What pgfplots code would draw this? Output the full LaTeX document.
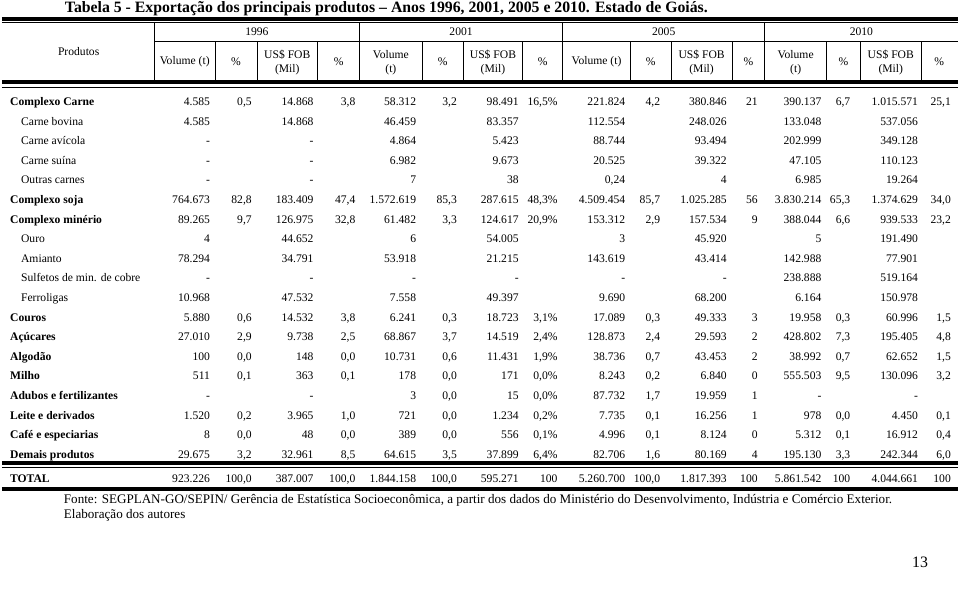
\documentclass[border=0pt]{standalone}
\usepackage{pgfplots}
\pgfplotsset{compat=1.18}
\usepackage{pgfplotstable}
\usepackage{fontspec}
\setmainfont{Liberation Serif}

\newcommand\bodyfont{\fontsize{11.7}{14}\selectfont}

% baseline y (px from top); 16 data columns, 1996 | 2001 | 2005 | 2010
\pgfplotstableread[col sep=semicolon, row sep=\\]{
y;a;b;c;d;e;f;g;h;i;j;k;l;m;n;o;p\\
106;4.585;0,5;14.868;3,8;58.312;3,2;98.491;16,5\%;221.824;4,2;380.846;21;390.137;6,7;1.015.571;25,1\\
125.7;4.585;;14.868;;46.459;;83.357;;112.554;;248.026;;133.048;;537.056;\\
145.4;-;;-;;4.864;;5.423;;88.744;;93.494;;202.999;;349.128;\\
165;-;;-;;6.982;;9.673;;20.525;;39.322;;47.105;;110.123;\\
184.7;-;;-;;7;;38;;0,24;;4;;6.985;;19.264;\\
204.4;764.673;82,8;183.409;47,4;1.572.619;85,3;287.615;48,3\%;4.509.454;85,7;1.025.285;56;3.830.214;65,3;1.374.629;34,0\\
224.1;89.265;9,7;126.975;32,8;61.482;3,3;124.617;20,9\%;153.312;2,9;157.534;9;388.044;6,6;939.533;23,2\\
243.8;4;;44.652;;6;;54.005;;3;;45.920;;5;;191.490;\\
263.4;78.294;;34.791;;53.918;;21.215;;143.619;;43.414;;142.988;;77.901;\\
283.1;-;;-;;-;;-;;-;;-;;238.888;;519.164;\\
302.8;10.968;;47.532;;7.558;;49.397;;9.690;;68.200;;6.164;;150.978;\\
322.5;5.880;0,6;14.532;3,8;6.241;0,3;18.723;3,1\%;17.089;0,3;49.333;3;19.958;0,3;60.996;1,5\\
342.2;27.010;2,9;9.738;2,5;68.867;3,7;14.519;2,4\%;128.873;2,4;29.593;2;428.802;7,3;195.405;4,8\\
361.8;100;0,0;148;0,0;10.731;0,6;11.431;1,9\%;38.736;0,7;43.453;2;38.992;0,7;62.652;1,5\\
381.5;511;0,1;363;0,1;178;0,0;171;0,0\%;8.243;0,2;6.840;0;555.503;9,5;130.096;3,2\\
401.2;-;;-;;3;0,0;15;0,0\%;87.732;1,7;19.959;1;-;;-;\\
420.9;1.520;0,2;3.965;1,0;721;0,0;1.234;0,2\%;7.735;0,1;16.256;1;978;0,0;4.450;0,1\\
440.6;8;0,0;48;0,0;389;0,0;556;0,1\%;4.996;0,1;8.124;0;5.312;0,1;16.912;0,4\\
460.2;29.675;3,2;32.961;8,5;64.615;3,5;37.899;6,4\%;82.706;1,6;80.169;4;195.130;3,3;242.344;6,0\\
485;923.226;100,0;387.007;100,0;1.844.158;100,0;595.271;100;5.260.700;100,0;1.817.393;100;5.861.542;100;4.044.661;100\\
}\tabdata

\pgfplotsset{
  cell/.style={draw=none, mark=none, nodes near coords, point meta=explicit symbolic,
    nodes near coords style={anchor=base east, inner sep=0pt, font=\bodyfont, text=black}},
}

\begin{document}
\begin{tikzpicture}
\begin{axis}[
    width=960bp, height=599bp, scale only axis,
    xmin=0, xmax=960, ymin=0, ymax=599,
    y dir=reverse, hide axis, clip=false,
]
\path (axis cs:0,0) rectangle (axis cs:960,599);

% title
\node[anchor=base, inner sep=0pt, font=\fontsize{15.9}{18}\selectfont\bfseries]
  at (axis cs:386,12.5) {Tabela 5 - Exportação dos principais produtos -- Anos 1996, 2001, 2005 e 2010. Estado de Goiás.};

% rules
\draw[line width=4bp] (axis cs:0,18.7) -- (axis cs:960,18.7);
\draw[line width=0.8bp] (axis cs:0,22.2) -- (axis cs:960,22.2);
\draw[line width=0.8bp] (axis cs:153,42) -- (axis cs:960,42);
\foreach \xv in {153,359,563,766}
  {\edef\temp{\noexpand\draw[line width=0.8bp] (axis cs:\xv,22) -- (axis cs:\xv,81);}\temp}
\foreach \xv in {214,256,317,422,463,523,631,672,733,828,862,923}
  {\edef\temp{\noexpand\draw[line width=0.8bp] (axis cs:\xv,42) -- (axis cs:\xv,81);}\temp}
\draw[line width=4bp] (axis cs:0,82.6) -- (axis cs:960,82.6);
\draw[line width=0.8bp] (axis cs:0,87.3) -- (axis cs:960,87.3);
\draw[line width=4bp] (axis cs:0,465.3) -- (axis cs:960,465.3);
\draw[line width=0.8bp] (axis cs:0,469.5) -- (axis cs:960,469.5);
\draw[line width=4bp] (axis cs:0,491) -- (axis cs:960,491);

% header
\begin{scope}[every node/.style={inner sep=0pt, font=\bodyfont, align=center}]
\node at (axis cs:77,52) {Produtos};
\node at (axis cs:256,32) {1996};
\node at (axis cs:461,32) {2001};
\node at (axis cs:664.5,32) {2005};
\node at (axis cs:863,32) {2010};
\node at (axis cs:183.5,62) {Volume (t)};
\node at (axis cs:235,62) {\%};
\node at (axis cs:286.5,63) {US\$ FOB\\(Mil)};
\node at (axis cs:338,62) {\%};
\node at (axis cs:390.5,63) {Volume\\(t)};
\node at (axis cs:442.5,62) {\%};
\node at (axis cs:493,63) {US\$ FOB\\(Mil)};
\node at (axis cs:543,62) {\%};
\node at (axis cs:597,62) {Volume (t)};
\node at (axis cs:651.5,62) {\%};
\node at (axis cs:702.5,63) {US\$ FOB\\(Mil)};
\node at (axis cs:749.5,62) {\%};
\node at (axis cs:797,63) {Volume\\(t)};
\node at (axis cs:845,62) {\%};
\node at (axis cs:892.5,63) {US\$ FOB\\(Mil)};
\node at (axis cs:941,62) {\%};
\end{scope}

% row labels
\begin{scope}[every node/.style={anchor=base west, inner sep=0pt, font=\bodyfont}]
\node at (axis cs:8,106) {\bfseries Complexo Carne};
\node at (axis cs:19,125.7) {Carne bovina};
\node at (axis cs:19,145.4) {Carne avícola};
\node at (axis cs:19,165) {Carne suína};
\node at (axis cs:19,184.7) {Outras carnes};
\node at (axis cs:8,204.4) {\bfseries Complexo soja};
\node at (axis cs:8,224.1) {\bfseries Complexo minério};
\node at (axis cs:19,243.8) {Ouro};
\node at (axis cs:19,263.4) {Amianto};
\node at (axis cs:19,283.1) {Sulfetos de min. de cobre};
\node at (axis cs:19,302.8) {Ferroligas};
\node at (axis cs:8,322.5) {\bfseries Couros};
\node at (axis cs:8,342.2) {\bfseries Açúcares};
\node at (axis cs:8,361.8) {\bfseries Algodão};
\node at (axis cs:8,381.5) {\bfseries Milho};
\node at (axis cs:8,401.2) {\bfseries Adubos e fertilizantes};
\node at (axis cs:8,420.9) {\bfseries Leite e derivados};
\node at (axis cs:8,440.6) {\bfseries Café e especiarias};
\node at (axis cs:8,460.2) {\bfseries Demais produtos};
\node at (axis cs:8,485) {\bfseries TOTAL};
\end{scope}

% data columns (right edges)
\addplot[cell] table[x expr=209, y=y, meta=a] {\tabdata};
\addplot[cell] table[x expr=251, y=y, meta=b] {\tabdata};
\addplot[cell] table[x expr=313, y=y, meta=c] {\tabdata};
\addplot[cell] table[x expr=355, y=y, meta=d] {\tabdata};
\addplot[cell] table[x expr=416, y=y, meta=e] {\tabdata};
\addplot[cell] table[x expr=457, y=y, meta=f] {\tabdata};
\addplot[cell] table[x expr=519, y=y, meta=g] {\tabdata};
\addplot[cell] table[x expr=558, y=y, meta=h] {\tabdata};
\addplot[cell] table[x expr=626, y=y, meta=i] {\tabdata};
\addplot[cell] table[x expr=661, y=y, meta=j] {\tabdata};
\addplot[cell] table[x expr=728, y=y, meta=k] {\tabdata};
\addplot[cell] table[x expr=759, y=y, meta=l] {\tabdata};
\addplot[cell] table[x expr=823, y=y, meta=m] {\tabdata};
\addplot[cell] table[x expr=852, y=y, meta=n] {\tabdata};
\addplot[cell] table[x expr=920, y=y, meta=o] {\tabdata};
\addplot[cell] table[x expr=953, y=y, meta=p] {\tabdata};

% source
\node[anchor=base west, inner sep=0pt, font=\fontsize{13.2}{15}\selectfont]
  at (axis cs:62,506) {Fonte: SEGPLAN-GO/SEPIN/ Gerência de Estatística Socioeconômica, a partir dos dados do Ministério do Desenvolvimento, Indústria e Comércio Exterior.};
\node[anchor=base west, inner sep=0pt, font=\fontsize{13.2}{15}\selectfont]
  at (axis cs:62,521) {Elaboração dos autores};
\node[anchor=base east, inner sep=0pt, font=\fontsize{16}{18}\selectfont]
  at (axis cs:930,570) {13};
\end{axis}
\end{tikzpicture}
\end{document}
